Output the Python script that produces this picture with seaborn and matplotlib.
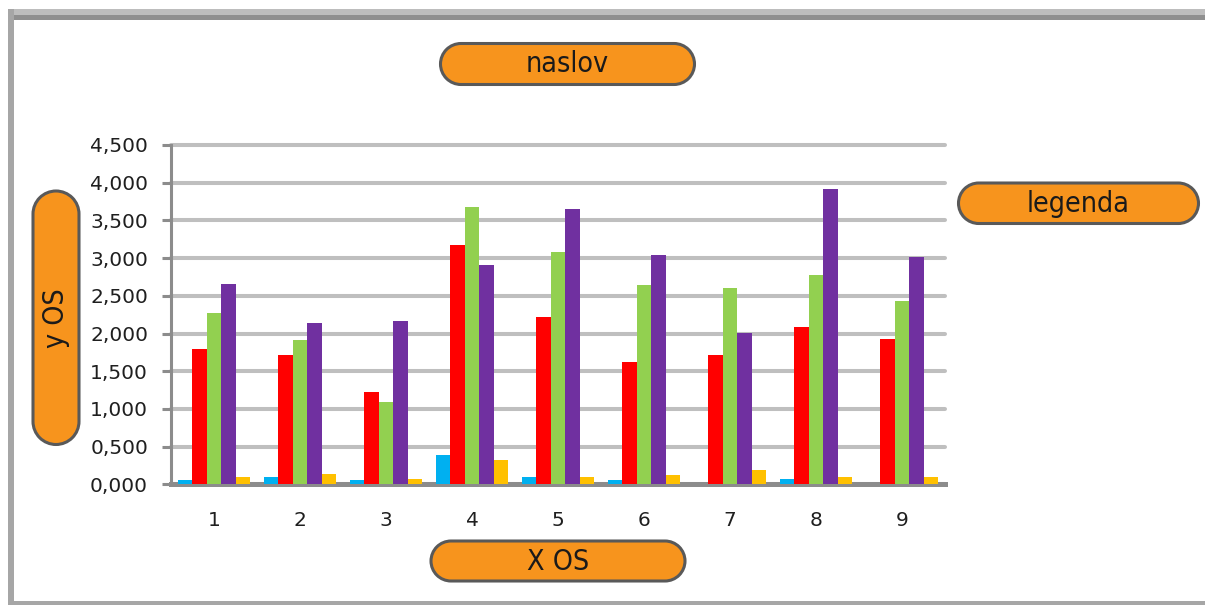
import matplotlib
matplotlib.use("Agg")
import numpy as np
import matplotlib.pyplot as plt
from matplotlib import font_manager as fm
from matplotlib.patches import PathPatch, Rectangle
from matplotlib.path import Path
from matplotlib.ticker import FuncFormatter
import pandas as pd
import seaborn as sns

# ---- data -------------------------------------------------------------
kategorije = ["1", "2", "3", "4", "5", "6", "7", "8", "9"]
serije = ["S1", "S2", "S3", "S4", "S5"]
s1 = [0.053, 0.097, 0.053, 0.385, 0.097, 0.053, 0.0, 0.075, 0.0]
s2 = [1.799, 1.715, 1.229, 3.174, 2.219, 1.622, 1.715, 2.087, 1.932]
s3 = [2.277, 1.910, 1.096, 3.678, 3.086, 2.648, 2.608, 2.776, 2.431]
s4 = [2.653, 2.144, 2.166, 2.909, 3.652, 3.042, 2.011, 3.917, 3.019]
s5 = [0.097, 0.141, 0.075, 0.318, 0.097, 0.119, 0.186, 0.097, 0.097]
boje = ["#00B0F0", "#FF0000", "#92D050", "#7030A0", "#FFC000"]

naslov = "naslov"
legenda = "legenda"
x_os = "X OS"
y_os = "y OS"

df = pd.DataFrame({
    "kategorija": kategorije * 5,
    "serija": [s for s in serije for _ in kategorije],
    "vrijednost": s1 + s2 + s3 + s4 + s5,
})

# ---- style ------------------------------------------------------------
sns.set_theme(style="white")
plt.rcParams["font.family"] = ["DejaVu Sans"]


def narrow_font():
    """Pick a condensed/narrow face if one is installed."""
    best = None
    for f in fm.fontManager.ttflist:
        name = f.name.lower()
        fname = f.fname.lower()
        narrow = (str(f.stretch) in ("condensed", "semi-condensed",
                                     "extra-condensed", "ultra-condensed")
                  or "condensed" in name or "narrow" in name
                  or "condensed" in fname or "narrow" in fname)
        if not narrow or f.style != "normal":
            continue
        w = f.weight if isinstance(f.weight, int) else 400
        score = abs(w - 350) + (0 if "sans" in name else 50)
        if best is None or score < best[0]:
            best = (score, f.fname)
    if best:
        return fm.FontProperties(fname=best[1]), True
    return fm.FontProperties(family="DejaVu Sans"), False


PILL_PROP, IS_NARROW = narrow_font()

W, H = 1205, 605
fig = plt.figure(figsize=(W / 100, H / 100), dpi=100, facecolor="white")

# pixel-space background layer for frame and label pills
bg = fig.add_axes([0, 0, 1, 1], zorder=0)
bg.set_xlim(0, W)
bg.set_ylim(H, 0)
bg.axis("off")

# outer frame
bg.add_patch(Rectangle((8, 9), W, 6, color="#BDBDBD", lw=0))
bg.add_patch(Rectangle((8, 15), W, 4.5, color="#8F8F8F", lw=0))
bg.add_patch(Rectangle((8, 9), 6, H, color="#A6A6A6", lw=0))
bg.add_patch(Rectangle((8, 600.5), W, 4, color="#A6A6A6", lw=0))

PILL_FC = "#F7941D"
PILL_EC = "#595959"


def stadium(x0, y0, w, h):
    if w >= h:
        r = h / 2
        cy = y0 + r
        a = Path.arc(-90, 90)
        b = Path.arc(90, 270)
        va = a.vertices * r + [x0 + w - r, cy]
        vb = b.vertices * r + [x0 + r, cy]
    else:
        r = w / 2
        cx = x0 + r
        a = Path.arc(0, 180)
        b = Path.arc(180, 360)
        va = a.vertices * r + [cx, y0 + h - r]
        vb = b.vertices * r + [cx, y0 + r]
    cb = b.codes.copy()
    cb[0] = Path.LINETO
    verts = np.vstack([va, vb, va[:1]])
    codes = np.concatenate([a.codes, cb, [Path.CLOSEPOLY]])
    return Path(verts, codes)


def pill(x0, y0, w, h, text, rot=0):
    bg.add_patch(PathPatch(stadium(x0, y0, w, h), fc=PILL_FC, ec=PILL_EC,
                           lw=2.2))
    size = 20.5 if IS_NARROW else 18
    bg.text(x0 + w / 2, y0 + h / 2 + 0.5, text, rotation=rot, ha="center",
            va="center", fontproperties=PILL_PROP, fontsize=size,
            color="#1A1A1A")


pill(440.5, 43.5, 254, 41, naslov)
pill(958.5, 183, 240, 40.5, legenda)
pill(431, 541, 254, 40, x_os)
pill(33, 191, 46, 253.5, y_os, rot=90)

# ---- chart ------------------------------------------------------------
ax = fig.add_axes([171 / W, 1 - 484.4 / H, (945 - 171) / W, (484.4 - 145) / H],
                  zorder=1)
ax.set_facecolor("none")

sns.barplot(data=df, x="kategorija", y="vrijednost", hue="serija",
            order=kategorije, hue_order=serije, palette=boje,
            saturation=1, width=0.84, gap=0, errorbar=None,
            linewidth=0, legend=False, ax=ax, zorder=3)

ax.set_ylim(0, 4.5)
ax.set_yticks([i * 0.5 for i in range(10)])
ax.yaxis.set_major_formatter(
    FuncFormatter(lambda v, _: f"{v:.3f}".replace(".", ",")))
ax.set_xlabel("")
ax.set_ylabel("")

ax.grid(axis="y", color="#BFBFBF", linewidth=2.9, zorder=0)
ax.grid(axis="x", visible=False)
ax.set_axisbelow(True)
for gl in ax.get_ygridlines():
    gl.set_clip_on(False)

for side in ("top", "right"):
    ax.spines[side].set_visible(False)
ax.spines["left"].set_color("#8C8C8C")
ax.spines["left"].set_linewidth(2.2)
ax.spines["bottom"].set_color("#8C8C8C")
ax.spines["bottom"].set_linewidth(3.6)

ax.tick_params(axis="y", which="major", direction="out", length=6.5,
               width=2.2, color="#8C8C8C", pad=10, labelsize=14.5,
               labelcolor="#1F1F1F", left=True)
ax.tick_params(axis="x", length=0, pad=19.5, labelsize=14.5,
               labelcolor="#1F1F1F")

fig.savefig("out.png", dpi=100, facecolor="white")
